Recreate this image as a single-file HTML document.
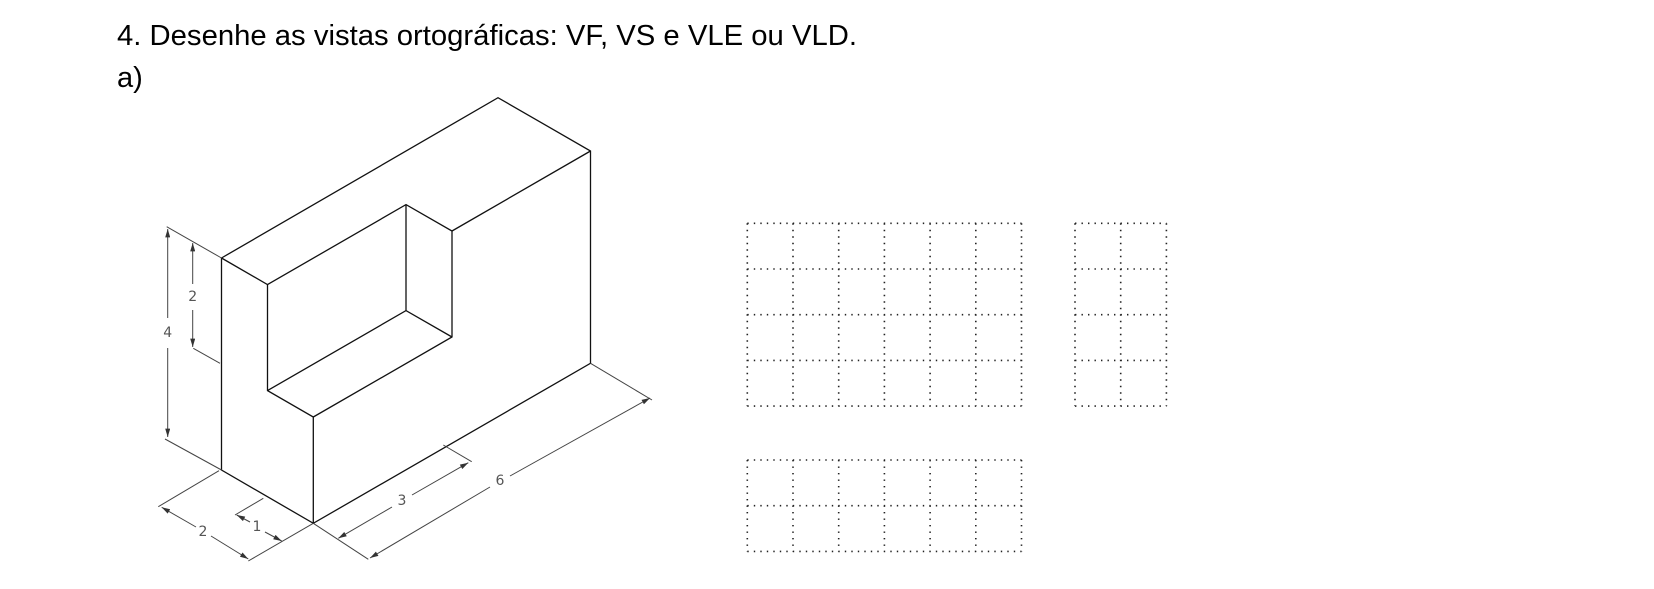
<!DOCTYPE html>
<html><head><meta charset="utf-8"><style>
html,body{margin:0;padding:0;background:#fff;width:1654px;height:589px;overflow:hidden}
svg{display:block}
.obj{stroke:#111;stroke-width:1.3;fill:none}
.dim{stroke:#444;stroke-width:1;fill:none}
.dt{font-family:"DejaVu Sans","Liberation Sans",sans-serif;font-size:14px;fill:#555;text-anchor:middle;dominant-baseline:central}
.grid{stroke:#222;stroke-width:1.6;stroke-dasharray:1.4 5.1;fill:none}
.ttl{font-family:"Liberation Sans",sans-serif;font-size:29px;fill:#000}
</style></head><body>
<svg width="1654" height="589" viewBox="0 0 1654 589">
<text class="ttl" x="117" y="45" textLength="740" lengthAdjust="spacingAndGlyphs">4. Desenhe as vistas ortográficas: VF, VS e VLE ou VLD.</text>
<text class="ttl" x="117" y="87">a)</text>

<g>
<polyline class="obj" points="221.5,258 221.5,470 313.3,523.3 590.5,363.3 590.5,151 498,97.7 221.5,258"/>
<polyline class="obj" points="221.5,258 267.5,284.6 267.5,390.6 313.3,417 313.3,523.3"/>
<polyline class="obj" points="267.5,284.6 406,204.6 452,231 452,337 313.3,417"/>
<polyline class="obj" points="267.5,390.6 406,310.6 452,337"/>
<line class="obj" x1="406" y1="204.6" x2="406" y2="310.6"/>
<line class="obj" x1="452" y1="231" x2="590.5" y2="151"/>
</g>

<defs><marker id="ar" viewBox="0 0 10 6" refX="10" refY="3" markerWidth="9" markerHeight="5" orient="auto-start-reverse" markerUnits="userSpaceOnUse"><path d="M0,0 L10,3 L0,6z" fill="#333"/></marker></defs>
<g>
<line class="dim" x1="166.7" y1="226.7" x2="221.5" y2="258"/>
<line class="dim" x1="193.3" y1="348.3" x2="220" y2="363.3"/>
<line class="dim" x1="165" y1="439" x2="221.5" y2="470"/>
<line class="dim" x1="167.7" y1="229" x2="167.7" y2="318" marker-start="url(#ar)"/>
<line class="dim" x1="167.7" y1="348" x2="167.7" y2="437" marker-end="url(#ar)"/>
<text class="dt" x="167.7" y="333">4</text>
<line class="dim" x1="192.7" y1="243" x2="192.7" y2="284" marker-start="url(#ar)"/>
<line class="dim" x1="192.7" y1="310" x2="192.7" y2="347" marker-end="url(#ar)"/>
<text class="dt" x="192.7" y="297">2</text>
<line class="dim" x1="219" y1="470.7" x2="158.3" y2="506.7"/>
<line class="dim" x1="313.3" y1="523.3" x2="248.3" y2="561"/>
<line class="dim" x1="161.7" y1="507.3" x2="196" y2="527" marker-start="url(#ar)"/>
<line class="dim" x1="211" y1="536" x2="248.3" y2="559" marker-end="url(#ar)"/>
<text class="dt" x="203" y="532">2</text>
<line class="dim" x1="263.3" y1="498.3" x2="235" y2="515"/>
<line class="dim" x1="236.7" y1="515" x2="250" y2="522" marker-start="url(#ar)"/>
<line class="dim" x1="265" y1="532" x2="281.7" y2="541" marker-end="url(#ar)"/>
<text class="dt" x="257" y="527">1</text>
<line class="dim" x1="443.3" y1="445" x2="471.7" y2="461.7"/>
<line class="dim" x1="313.3" y1="523.3" x2="368.3" y2="559.3"/>
<line class="dim" x1="468.3" y1="462.7" x2="412" y2="495" marker-start="url(#ar)"/>
<line class="dim" x1="392" y1="507" x2="338.3" y2="538.3" marker-end="url(#ar)"/>
<text class="dt" x="402" y="501">3</text>
<line class="dim" x1="590.5" y1="363.3" x2="652" y2="400"/>
<line class="dim" x1="650" y1="398" x2="510" y2="476" marker-start="url(#ar)"/>
<line class="dim" x1="490" y1="487" x2="370" y2="558" marker-end="url(#ar)"/>
<text class="dt" x="500" y="481">6</text>
</g>

<g id="grids"></g>
</svg>
<script>
const gridCols=[6,2,6];
const gridRows=[4,4,2];
const gridX=[747.3,1075,747.3];
const gridY=[223.3,223.3,460];
const cell=45.7;
const g=document.getElementById('grids');
const ns='http://www.w3.org/2000/svg';
const names=['front-view-grid','side-view-grid','top-view-grid'];
for(let k=0;k<3;k++){
  const grp=document.createElementNS(ns,'g');
  
  
  let d='';
  const x0=gridX[k],y0=gridY[k],w=gridCols[k]*cell,h=gridRows[k]*cell;
  for(let i=0;i<=gridCols[k];i++){const x=x0+i*cell;d+=`M${x},${y0}V${y0+h}`;}
  for(let j=0;j<=gridRows[k];j++){const y=y0+j*cell;d+=`M${x0},${y}H${x0+w}`;}
  const p=document.createElementNS(ns,'path');
  p.setAttribute('d',d);p.setAttribute('class','grid');
  
  
  grp.appendChild(p);g.appendChild(grp);
}
</script>
</body></html>
